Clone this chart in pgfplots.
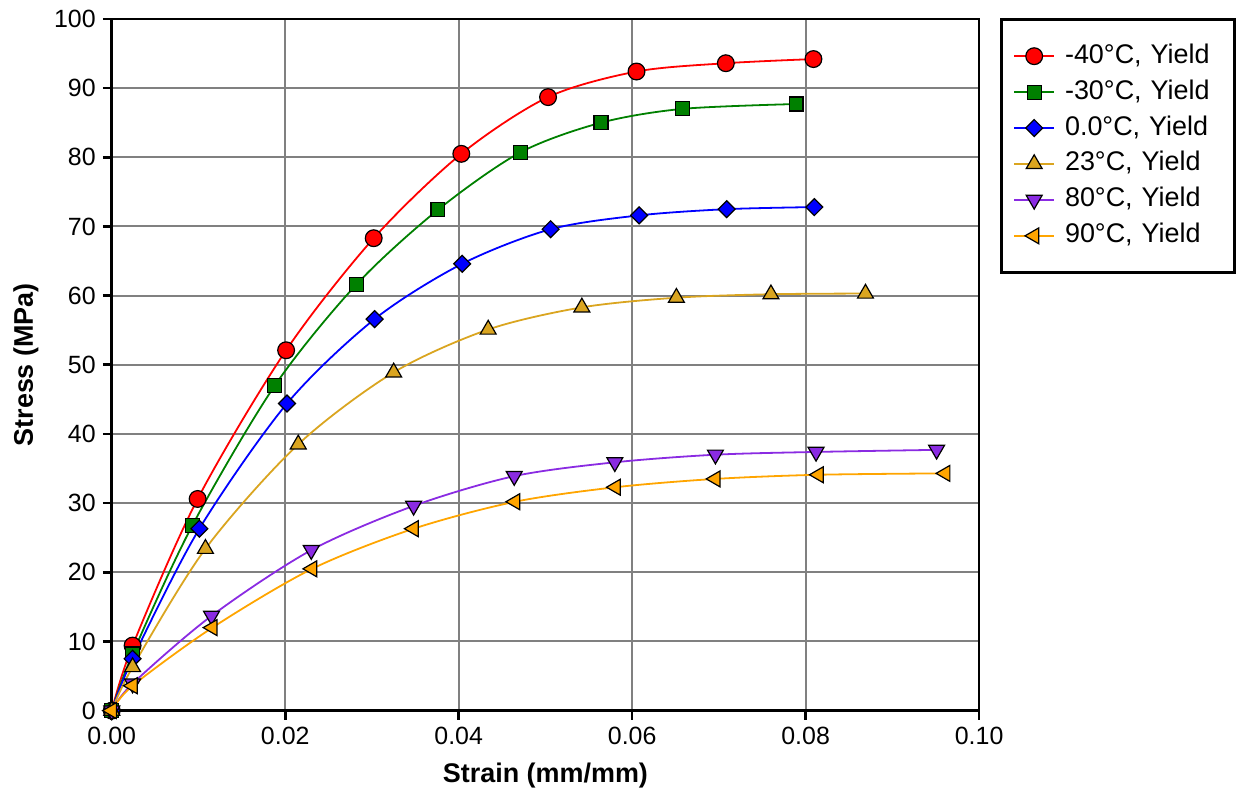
\documentclass[border=0pt]{standalone}
\usepackage{pgfplots}
\pgfplotsset{compat=1.18}
\usepackage{fontspec}
\setmainfont{Liberation Sans}

\definecolor{cgold}{RGB}{218,165,32}
\definecolor{cviolet}{RGB}{138,43,226}
\definecolor{corange}{RGB}{255,165,0}
\definecolor{cgreen}{RGB}{0,128,0}
\definecolor{gridgray}{RGB}{128,128,128}

\begin{document}
\begin{tikzpicture}
\begin{axis}[
    name=ax,
    scale only axis,
    width=434.5pt,
    height=346.5pt,
    xmin=0, xmax=0.10,
    ymin=0, ymax=100,
    xtick={0,0.02,0.04,0.06,0.08,0.10},
    ytick={0,10,...,100},
    xticklabel style={/pgf/number format/.cd, fixed, fixed zerofill, precision=2},
    scaled x ticks=false,
    /pgf/number format/assume math mode=true,
    tick label style={font=\fontsize{12.5}{15}\selectfont},
    label style={font=\fontsize{13.5}{16}\selectfont\bfseries},
    xlabel={Strain (mm/mm)},
    ylabel={Stress (MPa)},
    xlabel style={at={(axis description cs:0.5,-0.094)}, anchor=center},
    ylabel style={at={(axis description cs:-0.099,0.5)}, anchor=center},
    grid=major,
    major grid style={line width=1pt, draw=gridgray},
    axis line style={line width=1.3pt, black},
    tick align=outside,
    tick style={line width=1.3pt, black},
    major tick length=4.5pt,
    xtick pos=bottom, ytick pos=left,
    clip=false,
    every axis plot/.append style={line width=0.9pt, smooth},
    legend cell align=left,
    legend image code/.code={%
        \draw[mark repeat=2, mark phase=2, sharp plot]
        plot coordinates {(0pt,0pt) (10pt,0pt) (20pt,0pt)};},
    legend style={
        at={(axis description cs:1,1)}, anchor=north west,
        xshift=10.5pt, yshift=0.5pt,
        draw=black, line width=1.3pt,
        font=\fontsize{13.5}{16}\selectfont,
        inner xsep=6pt, inner ysep=9.5pt,
        row sep=0pt,
        nodes={inner ysep=3pt, text height=9.5pt, text depth=2.5pt},
        /tikz/every odd column/.append style={column sep=3pt},
        /tikz/every even column/.append style={text width=77pt},
    },
]

% -40 C
\addplot[red, mark=*, mark size=4.2pt, mark options={solid, draw=black, line width=0.6pt, fill=red}] coordinates {
(0,0) (0.0024,9.4) (0.0099,30.6) (0.0201,52.1) (0.0302,68.3) (0.0403,80.5)
(0.0503,88.7) (0.0605,92.4) (0.0708,93.6) (0.0809,94.2)
};
\addlegendentry{-40°C, Yield}

% -30 C
\addplot[cgreen, mark=square*, mark size=3.5pt, mark options={solid, draw=black, line width=0.6pt, fill=cgreen}] coordinates {
(0,0) (0.0024,8.2) (0.0093,26.8) (0.0188,47.0) (0.0282,61.6) (0.0376,72.4)
(0.0471,80.7) (0.0564,85.0) (0.0658,87.0) (0.0789,87.7)
};
\addlegendentry{-30°C, Yield}

% 0 C
\addplot[blue, mark=square*, mark size=3pt, mark options={solid, draw=black, line width=0.6pt, fill=blue, rotate=45}] coordinates {
(0,0) (0.0024,7.5) (0.0101,26.3) (0.0202,44.4) (0.0303,56.6) (0.0404,64.6)
(0.0506,69.6) (0.0608,71.6) (0.0709,72.5) (0.0810,72.8)
};
\addlegendentry{0.0°C, Yield}

% 23 C
\addplot[cgold, mark=triangle*, mark size=4.6pt, mark options={solid, draw=black, line width=0.6pt, fill=cgold}] coordinates {
(0,0) (0.0024,6.3) (0.0108,23.4) (0.0215,38.5) (0.0325,48.9) (0.0434,55.1)
(0.0542,58.3) (0.0651,59.7) (0.0760,60.2) (0.0869,60.3)
};
\addlegendentry{23°C, Yield}

% 80 C
\addplot[cviolet, mark=triangle*, mark size=4.6pt, mark options={solid, draw=black, line width=0.6pt, fill=cviolet, rotate=180}] coordinates {
(0,0) (0.0024,3.9) (0.0115,13.7) (0.0230,23.2) (0.0348,29.6) (0.0464,33.9)
(0.0580,35.9) (0.0696,37.0) (0.0812,37.4) (0.0951,37.7)
};
\addlegendentry{80°C, Yield}

% 90 C
\addplot[corange, mark=triangle*, mark size=4.6pt, mark options={solid, draw=black, line width=0.6pt, fill=corange, rotate=90}] coordinates {
(0,0) (0.0024,3.6) (0.0116,12.0) (0.0231,20.5) (0.0348,26.3) (0.0465,30.2)
(0.0581,32.3) (0.0696,33.5) (0.0815,34.1) (0.0961,34.3)
};
\addlegendentry{90°C, Yield}

\end{axis}
\path ([xshift=-56pt,yshift=-43pt]ax.south west) ([xshift=127.5pt,yshift=9.5pt]ax.north east);
\end{tikzpicture}
\end{document}
